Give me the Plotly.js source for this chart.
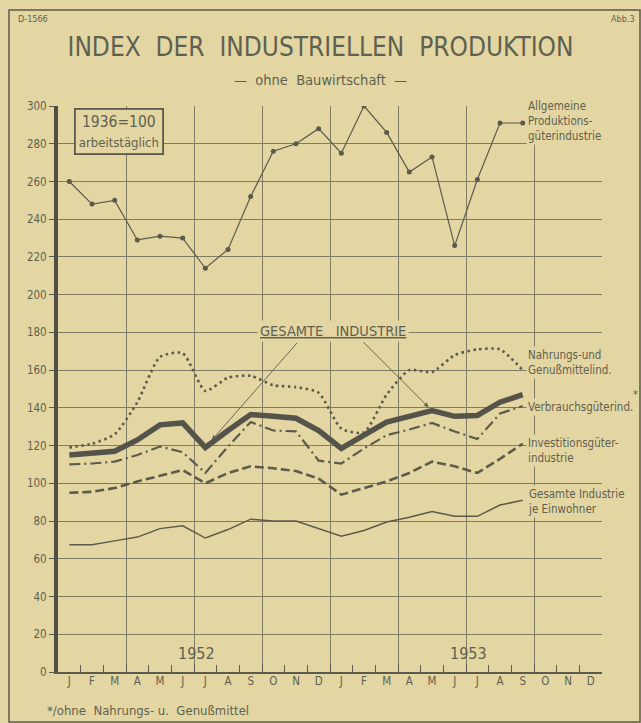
<!DOCTYPE html>
<html>
<head>
<meta charset="utf-8">
<script src="https://cdn.plot.ly/plotly-3.0.1.min.js"></script>
<style>
  html, body { margin: 0; padding: 0; background: #e4d6a2; }
  #chart { width: 641px; height: 723px; }
</style>
</head>
<body>
<div id="chart"></div>
<script>
// ---- data (monthly index, 1936 = 100, Jan 1952 .. Sep 1953) ----
const monthLetters = ['J','F','M','A','M','J','J','A','S','O','N','D'];
const years = ['1952', '1953'];
const allgemeineProduktionsgueter = [260,248,250,229,231,230,214,224,252,276,280,288,275,300,286,265,273,226,261,291,291];
const nahrungGenussmittel = [119,121,126,143,167,169,149,156,157,152,151,148,129,127,147,160,159,168,171,171,160];
const gesamteIndustrie = [115,116,117,123,131,132,119,128,136.5,135.5,134.5,128,118.5,125.5,132.5,135.5,138.5,135.5,136,143,147];
const verbrauchsgueter = [110,110.5,111.5,115,119.5,116.5,105.5,119.5,132.5,128,127.5,112,110.5,118.5,125.5,128.5,132,127.5,123.5,137,141];
const investitionsgueter = [95,95.5,97.5,101,104,107,100,105.5,109,108,106.5,102.5,94,97.5,101,105.5,111.5,109,105.5,113,121];
const jeEinwohner = [67.5,67.5,69.5,71.5,76,77.5,71,75.5,81,80,80,76,72,75,79.5,82,85,82.5,82.5,88.5,91];

// ---- derived ----
const monthLabels = monthLetters.concat(monthLetters);
const nMonths = monthLabels.length;
const monthCenters = monthLabels.map((_, i) => i + 0.5);
const xs = arr => arr.map((_, i) => i + 0.5);

const BG = '#e4d6a2';
const INK = '#5b5a4c';
const TXT = '#5e6150';
const GRID = '#7f7b63';
const FONT = '"Liberation Sans Narrow", "DejaVu Sans Condensed", "DejaVu Sans", sans-serif';

const traces = [
  { x: xs(allgemeineProduktionsgueter), y: allgemeineProduktionsgueter, mode: 'lines+markers',
    line: { color: INK, width: 1.2 }, marker: { color: INK, size: 5 }, name: 'Allgemeine Produktionsgüterindustrie' },
  { x: xs(nahrungGenussmittel), y: nahrungGenussmittel, mode: 'lines',
    line: { color: INK, width: 2.6, dash: '2.5px,3.5px', shape: 'spline', smoothing: 0.6 }, name: 'Nahrungs- und Genußmittelind.' },
  { x: xs(investitionsgueter), y: investitionsgueter, mode: 'lines',
    line: { color: INK, width: 2.6, dash: '9px,4px' }, name: 'Investitionsgüterindustrie' },
  { x: xs(verbrauchsgueter), y: verbrauchsgueter, mode: 'lines',
    line: { color: INK, width: 2.2, dash: '11px,4px,2px,4px' }, name: 'Verbrauchsgüterind.' },
  { x: xs(gesamteIndustrie), y: gesamteIndustrie, mode: 'lines',
    line: { color: '#55544b', width: 5.5 }, name: 'Gesamte Industrie' },
  { x: xs(jeEinwohner), y: jeEinwohner, mode: 'lines', xaxis: 'x2',
    line: { color: INK, width: 1.5 }, name: 'Gesamte Industrie je Einwohner' }
];

// plot area in pixels: left 58, right 602, top 106, bottom 672
const L = 58, R = 602, T = 106, B = 672;
const px = x => (x - L) / (R - L);
const py = y => (B - y) / (B - T);

const note = (text, x, y, size, extra) => Object.assign({
  text: text, xref: 'paper', yref: 'paper', x: px(x), y: py(y), xanchor: 'center', yanchor: 'middle',
  showarrow: false, font: { family: FONT, size: size, color: TXT }
}, extra || {});

const rightLabel = (text, y) => note(text, 526, y, 11.5,
  { xanchor: 'left', align: 'left', bgcolor: BG, borderpad: 1 });

const annotations = [
  note('—  ohne  Bauwirtschaft  —', 320, 80, 14.5),
  note('D-1566', 16, 19, 9, { xanchor: 'left' }),
  note('Abb.3', 637, 19, 9, { xanchor: 'right' }),
  note('1936=100<br><span style="font-size:13px">arbeitstäglich</span>', 119, 131, 15.5,
    { bgcolor: BG, bordercolor: INK, borderwidth: 1.8, borderpad: 3 }),
  rightLabel('Allgemeine<br>Produktions-<br>güterindustrie', 121),
  rightLabel('Nahrungs-und<br>Genußmittelind.', 362),
  rightLabel('Verbrauchsgüterind.', 407),
  rightLabel('Investitionsgüter-<br>industrie', 450),
  rightLabel('Gesamte Industrie<br>je Einwohner', 501),
  note('*', 635, 394, 11),
  note('<u>GESAMTE   INDUSTRIE</u>', 333, 331, 14.5, { bgcolor: BG, borderpad: 2 }),
  { text: '', x: 6.5, y: gesamteIndustrie[6], xref: 'x', yref: 'y', showarrow: true,
    ax: 93, ay: -106, standoff: 10, arrowhead: 2, arrowsize: 1, arrowwidth: 0.9, arrowcolor: INK },
  { text: '', x: 16.5, y: gesamteIndustrie[16], xref: 'x', yref: 'y', showarrow: true,
    ax: -70, ay: -70, standoff: 5, arrowhead: 2, arrowsize: 1, arrowwidth: 0.9, arrowcolor: INK },
  note('*/ohne  Nahrungs- u.  Genußmittel', 45, 710, 13, { xanchor: 'left' })
];
years.forEach((yr, k) => {
  annotations.push({ text: yr, x: 12 * k + 6.1, y: 10, xref: 'x', yref: 'y', showarrow: false,
    xanchor: 'center', yanchor: 'middle', font: { family: FONT, size: 16, color: TXT } });
});

const layout = {
  width: 641, height: 723,
  margin: { l: L, r: 641 - R, t: T, b: 723 - B, pad: 0 },
  paper_bgcolor: BG, plot_bgcolor: BG,
  showlegend: false,
  title: { text: 'INDEX  DER  INDUSTRIELLEN  PRODUKTION', xref: 'container', yref: 'container',
    x: 0.5, y: 1 - 47 / 723, xanchor: 'center', yanchor: 'middle',
    font: { family: FONT, size: 26, color: TXT } },
  xaxis: {
    range: [0, nMonths], tickmode: 'linear', tick0: 0, dtick: 3, showticklabels: false,
    showgrid: true, gridcolor: GRID, gridwidth: 1, zeroline: false,
    showline: true, linecolor: INK, linewidth: 1.6,
    ticks: 'inside', ticklen: 7, tickcolor: INK, tickwidth: 1,
    minor: { tickmode: 'linear', tick0: 0, dtick: 1, ticks: 'inside', ticklen: 7, tickcolor: INK, tickwidth: 1, showgrid: false }
  },
  xaxis2: {
    overlaying: 'x', anchor: 'y', side: 'bottom', range: [0, nMonths],
    tickmode: 'array', tickvals: monthCenters, ticktext: monthLabels,
    ticks: '', showgrid: false, zeroline: false, showline: false,
    tickfont: { family: FONT, size: 11.5, color: TXT }
  },
  yaxis: {
    range: [0, 300], tickmode: 'linear', tick0: 0, dtick: 20,
    showgrid: true, gridcolor: GRID, gridwidth: 1, zeroline: false,
    showline: true, linecolor: '#4f4e45', linewidth: 4,
    ticks: 'outside', ticklen: 5, tickcolor: INK, tickwidth: 1,
    tickfont: { family: FONT, size: 11.5, color: TXT }
  },
  shapes: [
    { type: 'rect', xref: 'paper', yref: 'paper', x0: px(9), x1: px(640), y0: py(722), y1: py(10),
      line: { color: INK, width: 1.5 }, fillcolor: 'rgba(0,0,0,0)', layer: 'below' }
  ],
  annotations: annotations
};

Plotly.newPlot('chart', traces, layout, { staticPlot: true, displayModeBar: false });
</script>
</body>
</html>
